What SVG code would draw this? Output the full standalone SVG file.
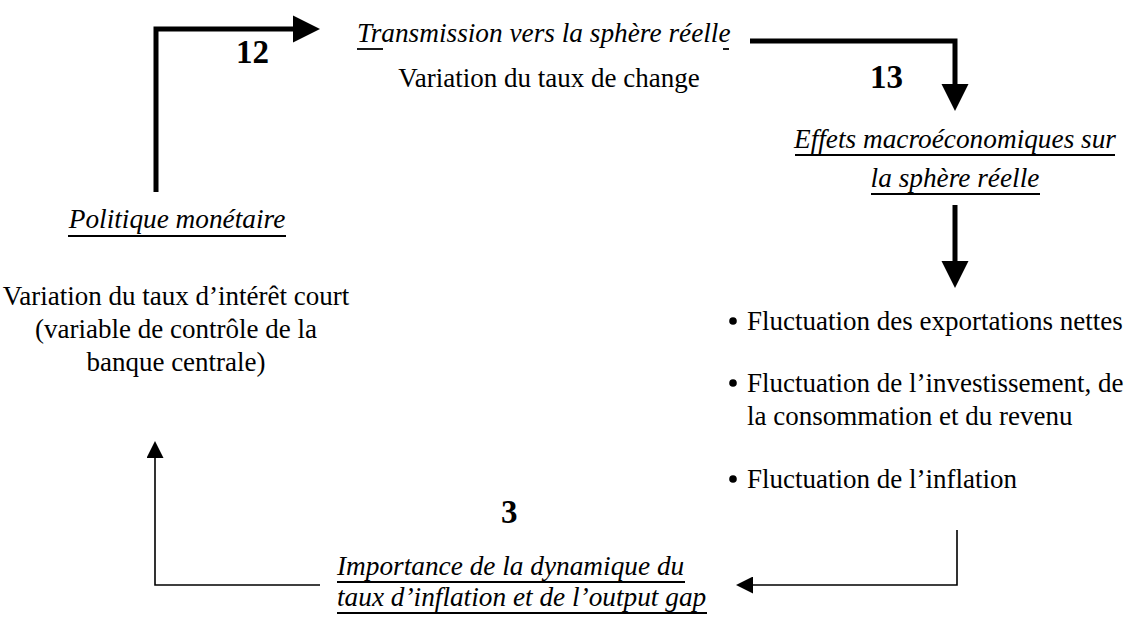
<svg xmlns="http://www.w3.org/2000/svg" width="1131" height="617" viewBox="0 0 1131 617">
  <style>
    text { font-family: "Liberation Serif", "Times New Roman", serif; font-size: 27px; fill: #000; }
    .it { font-style: italic; font-size: 27.3px; }
    .num { font-weight: bold; font-size: 33px; }
    .mid { text-anchor: middle; }
    .ul { stroke: #000; stroke-width: 1.8; }
    .thick { fill: none; stroke: #000; stroke-width: 5; }
    .thin { fill: none; stroke: #000; stroke-width: 1.6; }
  </style>
  <defs>
    <marker id="bigHead" viewBox="0 0 10 10" refX="0" refY="5" markerUnits="userSpaceOnUse" markerWidth="27" markerHeight="30" orient="auto">
      <path d="M0,0 L10,5 L0,10 Z" fill="#000"/>
    </marker>
    <marker id="smallHead" viewBox="0 0 10 10" refX="0" refY="5" markerUnits="userSpaceOnUse" markerWidth="23" markerHeight="17" orient="auto">
      <path d="M0,0 L10,5 L0,10 Z" fill="#000"/>
    </marker>
  </defs>

  <!-- flow arrows between the blocks -->
  <g id="connectors">
    <path class="thick" d="M156,192 V29 H293" marker-end="url(#bigHead)"/>
    <path class="thick" d="M750,41 H955 V84" marker-end="url(#bigHead)"/>
    <path class="thick" d="M955,205 V261" marker-end="url(#bigHead)"/>
    <path class="thin" d="M957,530 V585 H753" marker-end="url(#smallHead)"/>
    <path class="thin" d="M320,585 H155 V458" marker-end="url(#smallHead)"/>
  </g>

  <!-- step numbers -->
  <g id="labels">
    <text class="num" x="236" y="63">12</text>
    <text class="num" x="870" y="88">13</text>
    <text class="num" x="501" y="523">3</text>
  </g>

  <g id="node-transmission">
    <text class="it" x="357" y="42">Transmission vers la sphère réelle</text>
    <line class="ul" x1="357" y1="49" x2="383" y2="49"/>
    <line class="ul" x1="723" y1="49" x2="729" y2="49"/>
    <text class="mid" x="549" y="87">Variation du taux de change</text>
  </g>

  <g id="node-effets">
    <text class="it mid" x="955" y="148">Effets macroéconomiques sur</text>
    <line class="ul" x1="795" y1="155" x2="1115" y2="155"/>
    <text class="it mid" x="955" y="187">la sphère réelle</text>
    <line class="ul" x1="871" y1="194" x2="1040" y2="194"/>
  </g>

  <g id="node-fluctuations">
    <circle cx="733" cy="321" r="3.8"/>
    <text x="747" y="330">Fluctuation des exportations nettes</text>
    <circle cx="733" cy="383" r="3.8"/>
    <text x="747" y="392">Fluctuation de l’investissement, de</text>
    <text x="747" y="425">la consommation et du revenu</text>
    <circle cx="733" cy="479" r="3.8"/>
    <text x="747" y="488">Fluctuation de l’inflation</text>
  </g>

  <g id="node-importance">
    <text class="it" x="337" y="575">Importance de la dynamique du</text>
    <line class="ul" x1="337" y1="582" x2="685" y2="582"/>
    <text class="it" x="337" y="606">taux d’inflation et de l’output gap</text>
    <line class="ul" x1="337" y1="613" x2="707" y2="613"/>
  </g>

  <g id="node-politique">
    <text class="it mid" x="177" y="228">Politique monétaire</text>
    <line class="ul" x1="68" y1="236" x2="286" y2="236"/>
    <text class="mid" x="176" y="305">Variation du taux d’intérêt court</text>
    <text class="mid" x="176" y="338">(variable de contrôle de la</text>
    <text class="mid" x="176" y="371">banque centrale)</text>
  </g>
</svg>
